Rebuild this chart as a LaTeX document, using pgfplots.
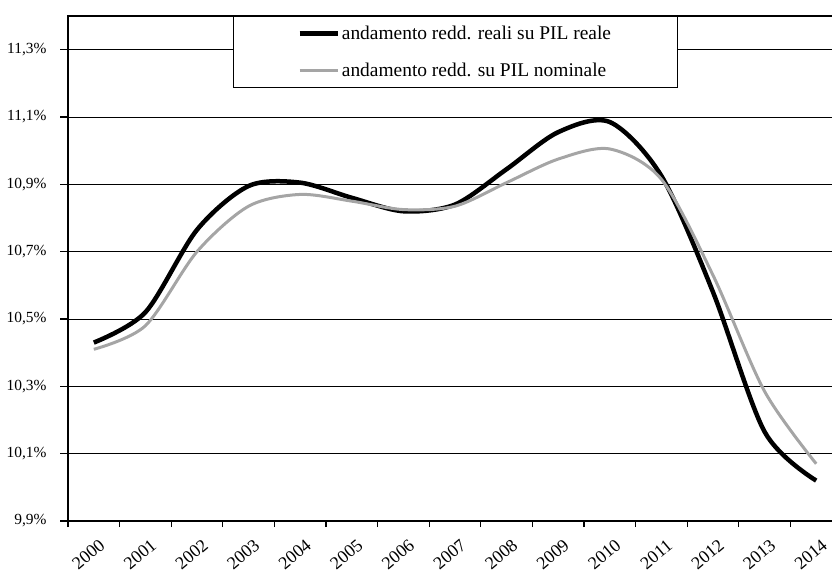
\documentclass[border=0pt]{standalone}
\usepackage{pgfplots}
\pgfplotsset{compat=1.18}
\usepackage{fontspec}
\setmainfont{Liberation Serif}
\definecolor{curvegray}{RGB}{165,165,165}

\pgfplotstableread{
x y
0 10.43
1 10.52
2 10.765
3 10.895
4 10.905
5 10.86
6 10.82
7 10.84
8 10.945
9 11.055
10 11.085
11 10.925
12 10.58
13 10.165
14 10.02
}\reale
\pgfplotstableread{
x y
0 10.41
1 10.48
2 10.70
3 10.835
4 10.87
5 10.85
6 10.825
7 10.835
8 10.905
9 10.975
10 11.005
11 10.915
12 10.63
13 10.285
14 10.07
}\nominale

\begin{document}
\begin{tikzpicture}
\begin{axis}[
  scale only axis, width=774bp, height=505bp,
  xmin=-0.5, xmax=14.5, ymin=9.9, ymax=11.4,
  axis line style={black, line width=2bp},
  tick pos=left, tick align=outside,
  xtick={0,...,14},
  xticklabels={2000,2001,2002,2003,2004,2005,2006,2007,2008,2009,2010,2011,2012,2013,2014},
  minor xtick={-0.5,0.5,...,14.5},
  major x tick style={draw=none},
  minor x tick style={black, line width=1.2bp},
  minor tick length=6bp,
  major tick length=8bp,
  ytick={9.9,10.1,10.3,10.5,10.7,10.9,11.1,11.3},
  yticklabels={{9,9\%},{10,1\%},{10,3\%},{10,5\%},{10,7\%},{10,9\%},{11,1\%},{11,3\%}},
  major y tick style={black, line width=1.2bp},
  ymajorgrids, major grid style={black, line width=0.9bp},
  /pgf/number format/assume math mode=true,
  yticklabel style={font=\fontsize{15.5}{18}\selectfont, xshift=-10bp},
  xticklabel style={font=\fontsize{18}{21}\selectfont, rotate=40, anchor=east, yshift=-16bp, xshift=1bp},
  legend style={at={(rel axis cs:0.2132,1)}, anchor=north west, draw=black, line width=0.8bp,
    fill=white, inner xsep=64bp, inner ysep=7.5bp, row sep=18bp,
    font=\fontsize{19.5}{22}\selectfont},
  legend cell align=left,
  legend image code/.code={\draw[#1] (0bp,0bp) -- (38bp,0bp);},
]
\addplot[black, line width=4.5bp, smooth] table[x=x, y=y] {\reale};
\addlegendentry{andamento redd. reali su PIL reale}
\addplot[curvegray, line width=3bp, smooth] table[x=x, y=y] {\nominale};
\addlegendentry{andamento redd. su PIL nominale}
\coordinate (O) at (rel axis cs:0,0);
\end{axis}
\pgfresetboundingbox
\useasboundingbox ([shift={(-68bp,-53bp)}]O) rectangle ([shift={(764bp,521bp)}]O);
\end{tikzpicture}
\end{document}
